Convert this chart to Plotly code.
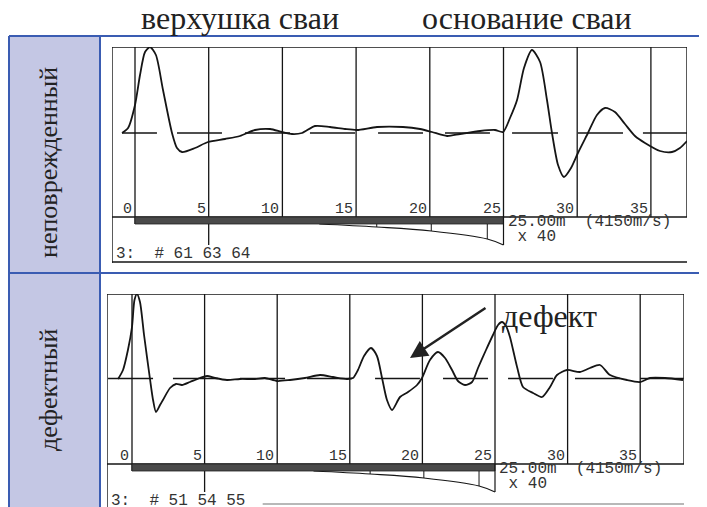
import plotly.graph_objects as go

# ---------------- data ----------------
# depth / time axis in metres (pile length 25 m), amplitude in arbitrary units
intact_t = [-0.88, -0.47, 0.0, 0.34, 0.68, 1.02, 1.42, 1.90, 2.51, 2.85, 3.19, 4.07, 4.95,
            6.11, 7.12, 8.14, 9.16, 9.97, 10.65, 11.33, 12.21, 13.23, 14.25, 15.06, 16.42,
            18.18, 19.34, 20.15, 21.17, 22.05, 23.41, 24.42, 24.97, 25.44, 25.92, 26.39,
            26.93, 27.48, 27.95, 28.29, 28.70, 29.10, 29.58, 30.05, 30.73, 31.34, 31.89,
            32.56, 33.24, 33.92, 34.60, 35.62, 36.43, 36.97, 37.45]
intact_a = [0, 5, 28, 58, 81, 86, 78, 43, 0, -15, -19, -15, -9,
            -6, -3, 3, 4, 1, -1, 0, 7, 6, 4, 3, 6,
            6, 4, 1, -3, -1, 2, 3, 1, 15, 33, 65,
            83, 71, 33, 0, -32, -44, -35, -20, 0, 18, 25,
            21, 9, -3, -10, -18, -19, -15, -8]

defect_t = [-0.96, -0.62, -0.28, 0.0, 0.17, 0.34, 0.55, 0.83, 1.24, 1.45, 1.65, 1.93, 2.13,
            2.62, 3.03, 3.44, 3.99, 4.68, 5.17, 5.72, 6.54, 7.44, 8.47, 9.16, 9.99, 10.88,
            11.91, 12.95, 13.84, 14.81, 15.22, 15.56, 15.98, 16.46, 16.87, 17.22, 17.56,
            17.91, 18.46, 19.01, 19.63, 19.97, 20.52, 21.07, 21.56, 22.04, 22.45, 22.93,
            23.42, 23.83, 24.38, 24.86, 25.21, 25.48, 25.76, 26.03, 26.52, 26.93, 27.62,
            28.24, 28.79, 29.27, 29.96, 30.85, 31.54, 32.23, 32.92, 34.09, 34.99, 35.67,
            36.71, 37.95]
defect_a = [-0.5, 8.5, 28.5, 51.5, 78.5, 84.5, 76.5, 43.5, -0.5, -21.5, -33.5, -26.5, -21.5,
            -9.5, -5.5, -6.5, -3.5, 0.5, 2.5, 0.5, -1.5, -0.5, -0.5, 0.5, -2.5, -1.5,
            0.5, 3.5, 1.5, -0.5, 0.5, 8.5, 22.5, 30.5, 22.5, 0.5, -21.5,
            -31.5, -18.5, -13.5, -6.5, 0.5, 18.5, 26.5, 20.5, 8.5, -2.5, -6.5,
            -3.5, 10.5, 28.5, 43.5, 53.5, 56.5, 52.5, 41.5, 11.5, -8.5, -14.5,
            -18.5, -8.5, 3.5, 8.5, 6.5, 10.5, 13.5, 3.5, -1.5, -3.5, 0.5,
            0.5, -1.5]

# dashed zero-line segments (start, end) in metres
intact_dashes = [(-0.88, 1.49), (2.85, 5.90), (7.46, 10.52), (11.87, 14.93), (16.49, 19.54),
                 (21.03, 24.08), (25.58, 28.70), (30.05, 33.11), (34.46, 37.45)]
defect_dashes = [(-1.65, 1.45), (2.82, 5.92), (7.44, 10.54), (12.05, 15.15), (16.74, 19.83),
                 (21.42, 24.52), (25.90, 28.99), (30.51, 33.61), (35.0, 38.0)]

tick_values = [0, 5, 10, 15, 20, 25, 30, 35]
tick_labels = ["0", "5", "10", "15", "20", "25", "30", "35"]

pile_length = 25.0
length_label = "25.00m  (4150m/s)"
gain_label = " x 40"
gain_t = [12.5, 16.4, 20.1, 23.9, 25.0]
gain_drop = [0, 3, 7, 15, 21]
gain_ticks = [16.4, 20.1, 23.9]

intact_id = "3:  # 61 63 64"
defect_id = "3:  # 51 54 55"

head_top = "верхушка сваи"
head_base = "основание сваи"
row_intact = "неповрежденный"
row_defect = "дефектный"
defect_note = "дефект"

# ---------------- layout geometry (window pixels) ----------------
OX, OY = 8, 8            # page body margin of the html page
W, H = 707 - OX, 507 - OY


def px(x):
    return (x - OX) / W


def py(y):
    return 1 - (y - OY) / H


panels = [
    dict(xa="x", ya="y", left=112, right=687, zero_px=135, px_per_m=14.74,
         top=47, bottom=263, base_px=133, line_px=217, t=intact_t, a=intact_a,
         dashes=intact_dashes, ident=intact_id, bottom_line=True),
    dict(xa="x2", ya="y2", left=107, right=684, zero_px=132, px_per_m=14.52,
         top=294, bottom=507, base_px=378.5, line_px=464, t=defect_t, a=defect_a,
         dashes=defect_dashes, ident=defect_id, bottom_line=False),
]

fig = go.Figure()
shapes = []
annotations = []

BLUE = "#3a5cb2"
LAV = "#c4c7e4"
INK = "#151515"
MONO = "Liberation Mono"
SERIF = "Liberation Serif"

# table background & borders
shapes.append(dict(type="rect", xref="paper", yref="paper", x0=px(9), x1=px(100),
                   y0=0, y1=py(36), fillcolor=LAV, line_width=0, layer="below"))
for (x0, y0, x1, y1) in [(9, 36, 707, 36), (9, 273, 707, 273), (9, 36, 9, 507),
                         (100, 36, 100, 507)]:
    shapes.append(dict(type="line", xref="paper", yref="paper", x0=px(x0), x1=px(x1),
                       y0=py(y0), y1=py(y1), line=dict(color=BLUE, width=2)))

for i, p in enumerate(panels):
    n = "" if i == 0 else str(i + 1)
    t_left = (p["left"] - p["zero_px"]) / p["px_per_m"]
    t_right = (p["right"] - p["zero_px"]) / p["px_per_m"]
    a_top = p["base_px"] - p["top"]
    a_bot = p["base_px"] - p["bottom"]
    a_line = p["base_px"] - p["line_px"]
    fig.update_layout(**{
        "xaxis" + n: dict(domain=[px(p["left"]), px(p["right"])], range=[t_left, t_right],
                          visible=False, fixedrange=True),
        "yaxis" + n: dict(domain=[py(p["bottom"]), py(p["top"])], range=[a_bot, a_top],
                          visible=False, fixedrange=True),
    })
    xa, ya = p["xa"], p["ya"]

    def ln(x0, y0, x1, y1, w=1.4, c=INK):
        shapes.append(dict(type="line", xref=xa, yref=ya, x0=x0, y0=y0, x1=x1, y1=y1,
                           line=dict(color=c, width=w)))

    # frame
    ln(t_left, a_top, t_right, a_top)
    ln(t_left, a_top, t_left, a_bot)
    ln(t_right, a_top, t_right, a_line)
    ln(t_left, a_line, t_right, a_line)
    if p["bottom_line"]:
        ln(t_left, a_bot + 1, t_right, a_bot + 1)
    else:
        ln(9.0, a_line - 40, t_right, a_line - 40, w=1.5, c="#a0a0a0")

    # vertical grid
    for tv in tick_values:
        low = a_line
        if tv == 0:
            low = a_line - 7
        if tv == 5:
            low = a_line - 28
        ln(tv, a_top, tv, low, w=1.3)

    # hatched bar for pile length
    shapes.append(dict(type="rect", xref=xa, yref=ya, x0=0, x1=pile_length, y0=a_line - 7,
                       y1=a_line, fillcolor="#4a4a4a", line=dict(color="#222", width=0.8)))
    # gain wedge
    ln(pile_length, a_line, pile_length, a_line - 28, w=1.2)
    fig.add_trace(go.Scatter(x=gain_t, y=[a_line - 7 - d for d in gain_drop], mode="lines",
                             line=dict(color=INK, width=1.2, shape="spline"),
                             xaxis=xa, yaxis=ya, hoverinfo="skip", showlegend=False))
    for gt in gain_ticks:
        idx = gain_t.index(gt)
        ln(gt, a_line - 7, gt, a_line - 7 - gain_drop[idx], w=1.0)

    # dashed zero line
    dx, dy = [], []
    for s, e in p["dashes"]:
        dx += [s, e, None]
        dy += [0, 0, None]
    fig.add_trace(go.Scatter(x=dx, y=dy, mode="lines", line=dict(color=INK, width=1.6),
                             xaxis=xa, yaxis=ya, hoverinfo="skip", showlegend=False))
    # signal
    fig.add_trace(go.Scatter(x=p["t"], y=p["a"], mode="lines",
                             line=dict(color=INK, width=1.8, shape="spline", smoothing=0.7),
                             xaxis=xa, yaxis=ya, showlegend=False))

    # tick labels
    for tv, tl in zip(tick_values, tick_labels):
        annotations.append(dict(xref=xa, yref=ya, x=tv, y=a_line + 8, text=tl,
                                showarrow=False, xanchor="right", yanchor="middle", xshift=-1,
                                font=dict(family=MONO, size=15, color="#333")))
    annotations.append(dict(xref=xa, yref=ya, x=pile_length, y=a_line - 5, text=length_label,
                            showarrow=False, xanchor="left", yanchor="middle", xshift=2,
                            font=dict(family=MONO, size=16, color="#333")))
    annotations.append(dict(xref=xa, yref=ya, x=pile_length, y=a_line - 20, text=gain_label,
                            showarrow=False, xanchor="left", yanchor="middle", xshift=2,
                            font=dict(family=MONO, size=16, color="#333")))
    annotations.append(dict(xref=xa, yref=ya, x=t_left, y=a_line - 37, text=p["ident"],
                            showarrow=False, xanchor="left", yanchor="middle", xshift=2,
                            font=dict(family=MONO, size=16, color="#333")))

# headings
annotations.append(dict(xref="paper", yref="paper", x=px(240), y=py(18), text=head_top,
                        showarrow=False, xanchor="center", yanchor="middle",
                        font=dict(family=SERIF, size=32, color="#222")))
annotations.append(dict(xref="paper", yref="paper", x=px(527), y=py(18), text=head_base,
                        showarrow=False, xanchor="center", yanchor="middle",
                        font=dict(family=SERIF, size=32, color="#222")))
# row labels
annotations.append(dict(xref="paper", yref="paper", x=px(48), y=py(163), text=row_intact,
                        showarrow=False, textangle=-90, xanchor="center", yanchor="middle",
                        font=dict(family=SERIF, size=26, color="#222")))
annotations.append(dict(xref="paper", yref="paper", x=px(48), y=py(390), text=row_defect,
                        showarrow=False, textangle=-90, xanchor="center", yanchor="middle",
                        font=dict(family=SERIF, size=26, color="#222")))
# defect note and arrow
annotations.append(dict(xref="paper", yref="paper", x=px(500), y=py(316), text=defect_note,
                        showarrow=False, xanchor="left", yanchor="middle",
                        font=dict(family=SERIF, size=32, color="#222")))
annotations.append(dict(xref="x2", yref="y2", x=(410 - 132) / 14.52, y=378.5 - 358, text="",
                        showarrow=True, ax=77, ay=-51, arrowhead=2, arrowsize=1.4,
                        arrowwidth=2.5, arrowcolor="#222"))

fig.update_layout(width=W, height=H, margin=dict(l=0, r=0, t=0, b=0),
                  paper_bgcolor="white", plot_bgcolor="rgba(0,0,0,0)",
                  shapes=shapes, annotations=annotations, showlegend=False)

fig.write_html("out.html")
